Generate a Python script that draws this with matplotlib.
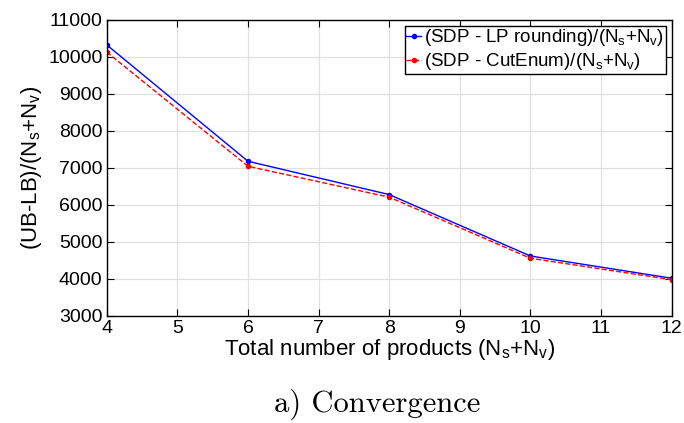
import matplotlib
matplotlib.use("Agg")
import matplotlib.pyplot as plt

plt.rcParams['font.family'] = ['Liberation Sans', 'DejaVu Sans']
plt.rcParams['mathtext.default'] = 'regular'

products = [4, 6, 8, 10, 12]
lp_rounding = [10325, 7180, 6280, 4620, 4020]
cut_enum = [10130, 7045, 6210, 4560, 3980]

fig = plt.figure(figsize=(6.84, 4.23), dpi=100)
ax = fig.add_axes([0.156, 0.253, 0.826, 0.700])

ax.plot(products, lp_rounding, '-', color='blue', lw=1, marker='.', ms=6,
        label=r'(SDP - LP rounding)/(N$_s$+N$_v$)')
ax.plot(products, cut_enum, '--', color='red', lw=1, marker='.', ms=6,
        label=r'(SDP - CutEnum)/(N$_s$+N$_v$)')

ax.set_xlim(4, 12)
ax.set_ylim(3000, 11000)
ax.set_xticks(range(4, 13))
ax.set_yticks(range(3000, 11001, 1000))
ax.grid(True, color='#e0e0e0', lw=0.9)
ax.tick_params(direction='in', top=True, right=True, labelsize=14, length=5, pad=3)
for s in ax.spines.values():
    s.set_linewidth(1)

ax.set_xlabel(r'Total number of products (N$_s$+N$_v$)', fontsize=16, labelpad=0)
ax.set_ylabel(r'(UB-LB)/(N$_s$+N$_v$)', fontsize=16, labelpad=3)

leg = ax.legend(loc='upper right', fontsize=13.5, fancybox=False, framealpha=1,
                edgecolor='black', borderaxespad=0.3, handlelength=0.8,
                handletextpad=0.15, borderpad=0.1, labelspacing=0.15)
leg.get_frame().set_linewidth(1)

fig.text(0.552, 0.026, 'a) Convergence', ha='center', va='baseline',
         fontsize=22, family='cmr10')

fig.savefig('out.png', dpi=100)
